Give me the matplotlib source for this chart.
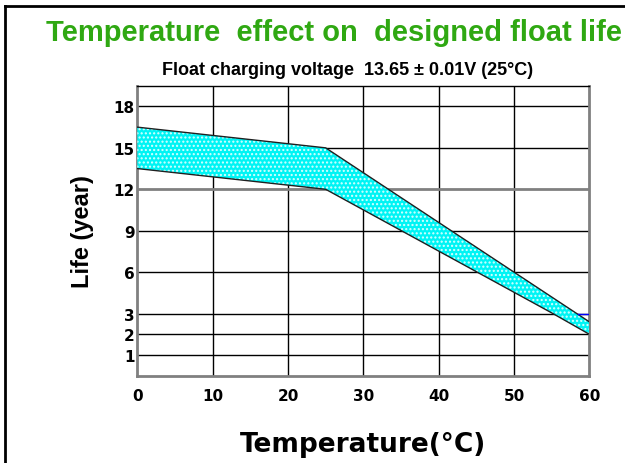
import numpy as np
import matplotlib
matplotlib.use("Agg")
import matplotlib.pyplot as plt
from matplotlib.lines import Line2D

# data
temps = [0, 25, 55, 60]
life_upper = [16.5, 15.0, 4.2, 2.6]
life_lower = [13.5, 12.0, 3.05, 2.0]

x_ticks = [0, 10, 20, 30, 40, 50, 60]
y_ticks = [1, 2, 3, 6, 9, 12, 15, 18]

TITLE = "Temperature  effect on  designed float life"
SUBTITLE = "Float charging voltage  13.65 \u00b1 0.01V (25\u00b0C)"


# the y axis is stretched below 3 years (one grid step per 2 years there)
def fwd(y):
    y = np.asarray(y, dtype=float)
    return np.where(y <= 3, y / 2.0, 1.5 + (y - 3) / 3.0)


def inv(t):
    t = np.asarray(t, dtype=float)
    return np.where(t <= 1.5, t * 2.0, 3 + (t - 1.5) * 3.0)


plt.rcParams["hatch.linewidth"] = 1.0
plt.rcParams["hatch.color"] = "#d8ffff"

fig = plt.figure(figsize=(6.25, 4.64), dpi=100)
ax = fig.add_axes([0.2197, 0.1882, 0.7232, 0.6249])
ax.set_yscale("function", functions=(fwd, inv))

ax.fill_between(temps, life_lower, life_upper, facecolor="#00f4f4",
                hatch="....", edgecolor="#d8ffff", linewidth=0, zorder=3)
ax.plot(temps, life_upper, color="#202020", lw=1.0, zorder=4)
ax.plot(temps, life_lower, color="#202020", lw=1.0, zorder=4)

# grid
for x in x_ticks[1:-1]:
    ax.axvline(x, color="black", lw=1.0, zorder=1)
for y in y_ticks:
    if y == 12:
        ax.axhline(y, color="#808080", lw=2.0, zorder=1)
    else:
        ax.axhline(y, color="black", lw=1.0, zorder=1)
ax.plot([58.5, 60], [3, 3], color="blue", lw=1.0, zorder=5)

ax.set_xlim(0, 60)
ax.set_ylim(0, 19.5)
ax.set_xticks(x_ticks)
ax.set_yticks(y_ticks)
ax.tick_params(length=0)
for lab in ax.get_xticklabels() + ax.get_yticklabels():
    lab.set_fontfamily("DejaVu Sans")
    lab.set_fontweight("bold")
    lab.set_fontsize(11)
ax.tick_params(axis="x", pad=9)
ax.tick_params(axis="y", pad=2)

for side in ["left", "right", "bottom"]:
    ax.spines[side].set_color("#808080")
    ax.spines[side].set_linewidth(2)
ax.spines["top"].set_color("black")
ax.spines["top"].set_linewidth(1)

ax.set_xlabel("Temperature(\u00b0C)", fontsize=19, fontweight="bold",
              family="DejaVu Sans", labelpad=20)
ax.set_ylabel("Life (year)", fontsize=17, fontweight="bold",
              family="Liberation Sans", labelpad=14)

fig.text(0.535, 0.928, TITLE, ha="center", va="center", color="#2fa812",
         fontsize=21, fontweight="bold", family="Liberation Sans")
fig.text(0.556, 0.848, SUBTITLE, ha="center", va="center", color="black",
         fontsize=13, fontweight="bold", family="Liberation Sans")

# frame around the whole picture (right and bottom sides are cropped off)
fig.add_artist(Line2D([5 / 625, 5 / 625], [0, 1 - 7 / 464], color="black", lw=2,
                      transform=fig.transFigure))
fig.add_artist(Line2D([5 / 625, 1], [1 - 7 / 464, 1 - 7 / 464], color="black", lw=2,
                      transform=fig.transFigure))

fig.savefig("out.png", dpi=100)
